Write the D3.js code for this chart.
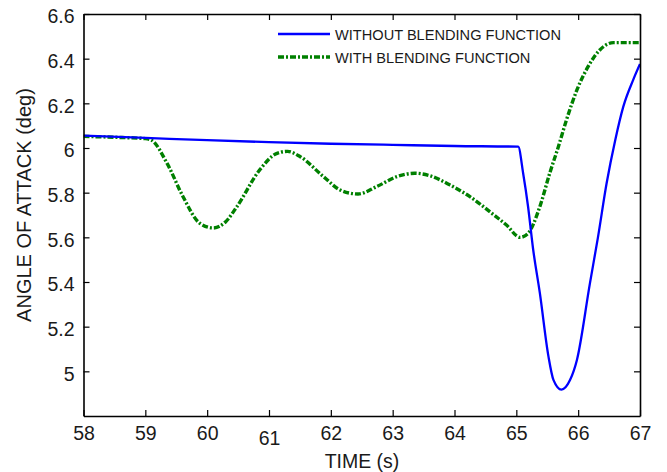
<!DOCTYPE html>
<html lang="en">
<head>
<meta charset="utf-8">
<title>Angle of attack</title>
<script src="https://cdn.jsdelivr.net/npm/d3@7"></script>
<style>
  body { margin: 0; background: #fff; }
  svg text { font-family: Arial, "Liberation Sans", sans-serif; fill: #1a1a1a; }
</style>
</head>
<body>
<script>
// data
var xTicks = [58, 59, 60, 61, 62, 63, 64, 65, 66, 67];
var yTicks = [5, 5.2, 5.4, 5.6, 5.8, 6, 6.2, 6.4, 6.6];
var seriesNames = ["WITHOUT BLENDING FUNCTION", "WITH BLENDING FUNCTION"];

var timeNoBlend = [58, 59, 60, 61, 62, 63, 64, 65.03, 65.11, 65.19, 65.27, 65.38, 65.52, 65.6, 65.73,
                   65.87, 65.98, 66.19, 66.32, 66.46, 66.6, 66.73, 66.89, 67];
var aoaNoBlend  = [6.055, 6.045, 6.035, 6.026, 6.019, 6.014, 6.009, 6.006, 5.887, 5.737, 5.55, 5.351, 5.066, 4.962, 4.918,
                   4.962, 5.051, 5.394, 5.6, 5.842, 6.036, 6.185, 6.305, 6.376];

var timeBlend = [58, 58.5, 59, 59.1, 59.35, 59.61, 59.88, 60.1, 60.3, 60.48, 60.85, 61.12, 61.3, 61.5,
                 61.88, 62.15, 62.44, 62.74, 63.07, 63.36, 63.6, 63.93, 64.25, 64.57, 64.84, 65.06, 65.19,
                 65.38, 65.54, 65.68, 65.81, 65.98, 66.16, 66.35, 66.57, 67];
var aoaBlend  = [6.052, 6.048, 6.042, 6.035, 5.932, 5.782, 5.663, 5.642, 5.67, 5.737, 5.902, 5.975, 5.985, 5.962,
                 5.872, 5.812, 5.794, 5.827, 5.872, 5.887, 5.876, 5.834, 5.782, 5.715, 5.655, 5.6, 5.618,
                 5.737, 5.887, 6.006, 6.125, 6.26, 6.364, 6.439, 6.472, 6.472];

var w = 667, h = 472;
var plotLeft = 83.5, plotRight = 640, plotTop = 14, plotBottom = 416;

var svg = d3.select("body").append("svg")
    .attr("width", w)
    .attr("height", h);

var x = d3.scaleLinear().domain([58, 67]).range([plotLeft, plotRight]);
var y = d3.scaleLinear().domain([4.8, 6.6]).range([plotBottom, plotTop]);

// curves
var line = d3.line()
    .x(function(d) { return x(d[0]); })
    .y(function(d) { return y(d[1]); })
    .curve(d3.curveMonotoneX);

svg.append("clipPath").attr("id", "plotclip")
  .append("rect")
    .attr("x", plotLeft).attr("y", plotTop - 2)
    .attr("width", plotRight - plotLeft).attr("height", plotBottom - plotTop + 2);

var plot = svg.append("g").attr("clip-path", "url(#plotclip)");

plot.append("path")
    .datum(d3.zip(timeBlend, aoaBlend))
    .attr("d", line)
    .attr("fill", "none")
    .attr("stroke", "#008000")
    .attr("stroke-width", 3.4)
    .attr("stroke-dasharray", "6,2,2,2");

plot.append("path")
    .datum(d3.zip(timeNoBlend, aoaNoBlend))
    .attr("d", line)
    .attr("fill", "none")
    .attr("stroke", "#0000ff")
    .attr("stroke-width", 2.3);

// axes, ticks pointing inward on all four sides
var fmt = function(d) { return String(d); };
var gx = svg.append("g").attr("transform", "translate(0," + plotBottom + ")")
    .call(d3.axisBottom(x).tickValues(xTicks).tickFormat(fmt).tickSize(-6).tickSizeOuter(0).tickPadding(9));
var gxt = svg.append("g").attr("transform", "translate(0," + plotTop + ")")
    .call(d3.axisTop(x).tickValues(xTicks).tickSize(-6).tickSizeOuter(0).tickFormat(""));
var gy = svg.append("g").attr("transform", "translate(" + plotLeft + ",0)")
    .call(d3.axisLeft(y).tickValues(yTicks).tickFormat(fmt).tickSize(-6).tickSizeOuter(0).tickPadding(9));
var gyr = svg.append("g").attr("transform", "translate(" + plotRight + ",0)")
    .call(d3.axisRight(y).tickValues(yTicks).tickSize(-6).tickSizeOuter(0).tickFormat(""));

[gx, gxt, gy, gyr].forEach(function(g) {
  g.selectAll(".domain").attr("stroke", "#000").attr("stroke-width", 1.6);
  g.selectAll(".tick line").attr("stroke", "#000").attr("stroke-width", 1.2);
  g.selectAll("text").attr("font-size", 19.5).attr("font-family", "Arial, 'Liberation Sans', sans-serif").attr("fill", "#1a1a1a");
});

gx.selectAll(".tick text")
    .attr("dy", function(d) { return d === 61 ? "1.05em" : "0.75em"; });
gy.selectAll(".tick text").attr("dy", "0.45em");

// axis titles
svg.append("text")
    .attr("x", 362)
    .attr("y", 468)
    .attr("text-anchor", "middle")
    .attr("font-size", 19.5)
    .text("TIME (s)");

svg.append("text")
    .attr("transform", "translate(31,205) rotate(-90)")
    .attr("text-anchor", "middle")
    .attr("font-size", 20)
    .text("ANGLE OF ATTACK (deg)");

// legend
var legend = svg.append("g");
var legendY = [34, 57];
legend.append("line")
    .attr("x1", 278).attr("x2", 330).attr("y1", legendY[0]).attr("y2", legendY[0])
    .attr("stroke", "#0000ff").attr("stroke-width", 2.4);
legend.append("line")
    .attr("x1", 278).attr("x2", 330).attr("y1", legendY[1]).attr("y2", legendY[1])
    .attr("stroke", "#008000").attr("stroke-width", 3.4).attr("stroke-dasharray", "6,2,2,2");
legend.selectAll("text.lab")
    .data(seriesNames)
    .enter()
    .append("text")
    .attr("class", "lab")
    .attr("x", 335)
    .attr("y", function(d, i) { return legendY[i] + 5.5; })
    .attr("font-size", 14.6)
    .text(function(d) { return d; });
</script>
</body>
</html>
